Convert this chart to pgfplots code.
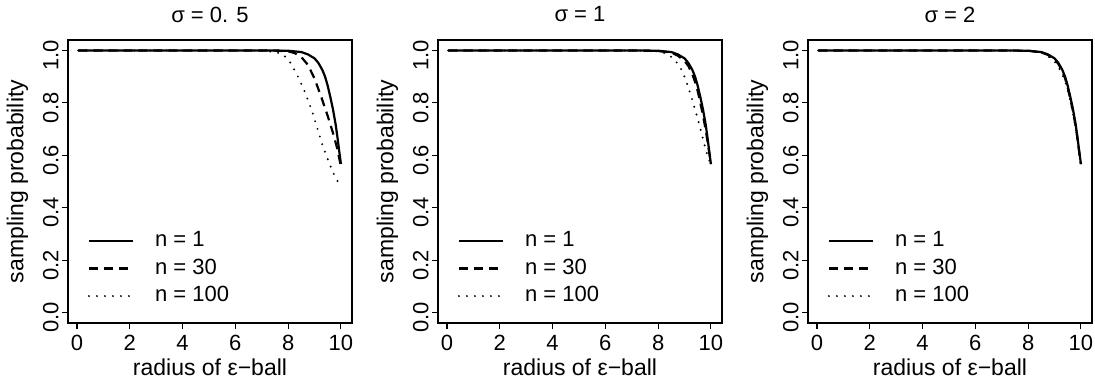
\documentclass[border=0pt]{standalone}
\usepackage{fontspec}
\setmainfont{Liberation Sans}
\usepackage{pgfplots}
\pgfplotsset{compat=1.18}
\usepackage{pgfplotstable}

% sampling probability against the radius of the epsilon-ball
\pgfplotstableread{
x p
0.05 1.000
7.00 1.000
7.50 0.9998
8.00 0.999
8.50 0.994
8.75 0.985
9.00 0.970
9.15 0.952
9.30 0.925
9.40 0.900
9.50 0.865
9.60 0.822
9.70 0.775
9.80 0.718
9.87 0.668
9.93 0.620
10.00 0.567
}\nOne

% sigma = 0.5
\pgfplotstableread{
x p
0.05 1.000
7.00 1.000
7.50 0.9995
8.00 0.997
8.25 0.990
8.50 0.975
8.75 0.945
9.00 0.893
9.25 0.824
9.50 0.750
9.70 0.685
9.85 0.630
9.95 0.582
10.00 0.556
}\sAthirty
\pgfplotstableread{
x p
0.05 1.000
6.50 1.000
7.00 0.999
7.50 0.995
7.80 0.985
8.05 0.960
8.35 0.905
8.65 0.838
8.90 0.770
9.10 0.705
9.30 0.640
9.50 0.585
9.70 0.535
9.85 0.505
10.00 0.482
}\sAhundred

% sigma = 1
\pgfplotstableread{
x p
0.05 1.000
7.00 1.000
8.00 0.998
8.50 0.992
8.75 0.980
9.00 0.960
9.15 0.940
9.30 0.908
9.40 0.880
9.50 0.845
9.60 0.800
9.70 0.752
9.80 0.698
9.90 0.635
10.00 0.566
}\sBthirty
\pgfplotstableread{
x p
0.05 1.000
7.00 1.000
7.50 0.999
8.00 0.997
8.25 0.990
8.50 0.975
8.75 0.950
8.92 0.920
9.10 0.872
9.30 0.810
9.50 0.740
9.67 0.675
9.83 0.612
9.95 0.578
10.00 0.565
}\sBhundred

% sigma = 2
\pgfplotstableread{
x p
0.05 1.000
7.00 1.000
8.00 0.999
8.50 0.993
8.75 0.983
9.00 0.967
9.15 0.948
9.30 0.920
9.40 0.894
9.50 0.858
9.60 0.815
9.70 0.768
9.80 0.712
9.87 0.663
9.93 0.616
10.00 0.566
}\sCthirty
\pgfplotstableread{
x p
0.05 1.000
7.00 1.000
8.00 0.998
8.50 0.991
8.75 0.978
9.00 0.958
9.15 0.937
9.30 0.907
9.40 0.882
9.50 0.848
9.60 0.806
9.70 0.760
9.80 0.705
9.87 0.658
9.93 0.612
10.00 0.565
}\sChundred

\newcommand\ticksize{\fontsize{22}{26}\selectfont}

\pgfplotsset{
  panel/.style={
    scale only axis, width=284pt, height=283pt,
    xmin=-0.34, xmax=10.42, ymin=-0.04, ymax=1.04,
    axis line style={line width=1.1pt},
    /pgf/number format/assume math mode=true,
    xtick={0,2,4,6,8,10},
    ytick={0,0.2,0.4,0.6,0.8,1.0},
    xticklabel={\ticksize\pgfmathprintnumber{\tick}},
    yticklabel={\ticksize\pgfmathprintnumber[fixed,fixed zerofill,precision=1]{\tick}},
    xtick pos=bottom, ytick pos=left,
    tick align=outside, major tick length=6pt,
    tick style={line width=1.1pt, black},
    xticklabel style={yshift=-3pt},
    yticklabel style={rotate=90, anchor=south, xshift=-5pt},
    every axis label/.append style={font=\fontsize{23}{27}\selectfont},
    xlabel={radius of ε−ball},
    ylabel={sampling probability},
    xlabel style={at={(axis description cs:0.5,-0.155)}, anchor=center},
    ylabel style={at={(axis description cs:-0.178,0.5)}, anchor=center, rotate=0},
    % the default title style already adds a 6pt upward shift
    every axis title/.append style={at={(axis description cs:0.5,1.069)},
      anchor=center, font=\fontsize{22}{26}\selectfont},
    legend style={draw=none, fill=none, at={(axis description cs:0.07,0.323)},
      anchor=north west, inner sep=0pt, outer sep=0pt, row sep=8.5pt,
      font=\fontsize{22}{26}\selectfont,
      nodes={inner sep=0pt, text height=15pt, text depth=4pt},
      /tikz/every odd column/.style={column sep=21pt}},
    legend cell align=left,
    legend image code/.code={\draw[##1] (0pt,0pt) -- (44pt,0pt);},
  },
  n1/.style={black, line width=2.2pt},
  n30/.style={black, line width=2.2pt, dash pattern=on 9pt off 6pt},
  n100/.style={black, line width=2.2pt, line cap=round, dash pattern=on 0pt off 8pt},
}

\begin{document}
\begin{tikzpicture}[x=1pt,y=1pt]
\useasboundingbox (0,0) rectangle (1095,383);

\begin{axis}[panel, at={(68pt,60pt)}, anchor=south west, title={σ = 0. 5}]
\addplot[n1] table[x=x,y=p] {\nOne};
\addplot[n30] table[x=x,y=p] {\sAthirty};
\addplot[n100] table[x=x,y=p] {\sAhundred};
\legend{n = 1, n = 30, n = 100}
\end{axis}

\begin{axis}[panel, at={(438pt,60pt)}, anchor=south west, title={σ = 1}]
\addplot[n1] table[x=x,y=p] {\nOne};
\addplot[n30] table[x=x,y=p] {\sBthirty};
\addplot[n100] table[x=x,y=p] {\sBhundred};
\legend{n = 1, n = 30, n = 100}
\end{axis}

\begin{axis}[panel, at={(808pt,60pt)}, anchor=south west, title={σ = 2}]
\addplot[n1] table[x=x,y=p] {\nOne};
\addplot[n30] table[x=x,y=p] {\sCthirty};
\addplot[n100] table[x=x,y=p] {\sChundred};
\legend{n = 1, n = 30, n = 100}
\end{axis}
\end{tikzpicture}
\end{document}
